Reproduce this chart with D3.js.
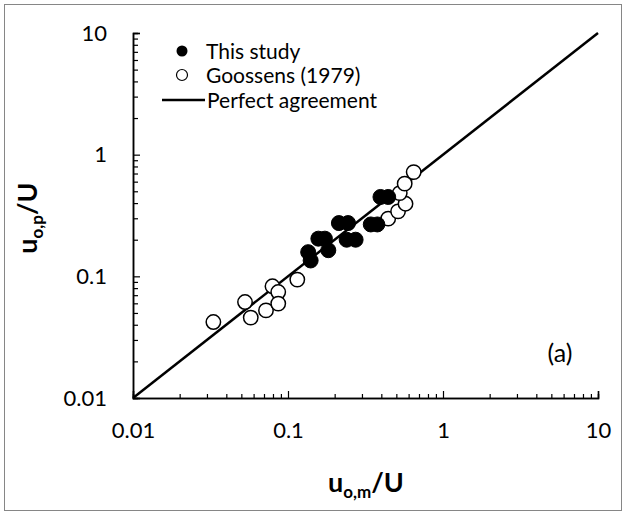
<!DOCTYPE html>
<html><head><meta charset="utf-8">
<script src="https://cdn.jsdelivr.net/npm/d3@7"></script>
<style>body{margin:0;background:#fff}svg{display:block}text{font-family:Lato,sans-serif}</style>
</head><body>
<svg id="c" width="626" height="515"></svg>
<script>
// Data (u_o,m/U , u_o,p/U)
const thisStudyX = [0.135,0.140,0.157,0.173,0.182,0.213,0.244,0.239,0.273,0.342,0.377,0.395,0.443];
const thisStudyY = [0.158,0.135,0.204,0.204,0.164,0.274,0.274,0.200,0.200,0.267,0.267,0.449,0.449];
const goossensX = [0.0330,0.0528,0.0575,0.0721,0.0794,0.0865,0.0865,0.1148,0.443,0.513,0.573,0.526,0.566,0.647];
const goossensY = [0.0421,0.0615,0.0458,0.0525,0.0828,0.0743,0.0597,0.0940,0.298,0.342,0.395,0.483,0.578,0.719];
const majorTicks = [0.01,0.1,1,10];
const tickLabels = ["0.01","0.1","1","10"];
const agreementLine = [0.01,10];
const legendLabels = ["This study","Goossens (1979)","Perfect agreement"];

const svg = d3.select("#c");
svg.append("rect").attr("x",4.5).attr("y",4.5).attr("width",617).attr("height",506)
  .attr("fill","#fff").attr("stroke","#868686").attr("stroke-width",1);

const x = d3.scaleLog().domain([0.01,10]).range([133,598]);
const y = d3.scaleLog().domain([0.01,10]).range([398,33]);
const minor = x.ticks().filter(v => !majorTicks.some(m => Math.abs(m-v)/v < 1e-6));

// minor ticks
const gxm = svg.append("g").attr("transform","translate(0,398)")
  .call(d3.axisBottom(x).tickValues(minor).tickSize(-4).tickFormat(""));
const gym = svg.append("g").attr("transform","translate(133,0)")
  .call(d3.axisLeft(y).tickValues(minor).tickSize(-5).tickFormat(""));
// major ticks with labels
const gx = svg.append("g").attr("transform","translate(0,398)")
  .call(d3.axisBottom(x).tickValues(majorTicks).tickSize(-7).tickPadding(24)
    .tickFormat((d,i)=>tickLabels[i]));
const gy = svg.append("g").attr("transform","translate(133,0)")
  .call(d3.axisLeft(y).tickValues(majorTicks).tickSize(-7).tickPadding(26)
    .tickFormat((d,i)=>tickLabels[i]));
[gxm,gym,gx,gy].forEach(g=>{
  g.select(".domain").attr("stroke","#000").attr("stroke-width",1.5);
  g.selectAll(".tick line").attr("stroke","#000").attr("stroke-width",1.2);
  g.selectAll("text").attr("fill","#000").style("font-size","22px").style("font-family","Lato, sans-serif");
});

// perfect agreement line
svg.append("line").attr("x1",x(agreementLine[0])).attr("y1",y(agreementLine[0]))
  .attr("x2",x(agreementLine[1])).attr("y2",y(agreementLine[1]))
  .attr("stroke","#000").attr("stroke-width",2.5);

// points
svg.append("g").selectAll("circle").data(goossensX.map((v,i)=>[v,goossensY[i]])).join("circle")
  .attr("cx",d=>x(d[0])).attr("cy",d=>y(d[1])).attr("r",7.2)
  .attr("fill","#fff").attr("stroke","#000").attr("stroke-width",1.5);
svg.append("g").selectAll("circle").data(thisStudyX.map((v,i)=>[v,thisStudyY[i]])).join("circle")
  .attr("cx",d=>x(d[0])).attr("cy",d=>y(d[1])).attr("r",7.5)
  .attr("fill","#000").attr("stroke","#000").attr("stroke-width",1);

// legend
const leg = svg.append("g");
leg.append("circle").attr("cx",182).attr("cy",51).attr("r",5.5).attr("fill","#000");
leg.append("circle").attr("cx",182).attr("cy",75).attr("r",5.5).attr("fill","#fff").attr("stroke","#000").attr("stroke-width",1.2);
leg.append("line").attr("x1",162).attr("x2",205).attr("y1",100).attr("y2",100).attr("stroke","#000").attr("stroke-width",2.5);
[51,75,100].forEach((yy,i)=>{
  leg.append("text").attr("x", i<2?206:207).attr("y",yy).attr("dy","0.36em")
    .style("font-size","21px").text(legendLabels[i]);
});

// panel label
svg.append("text").attr("x",560).attr("y",353).attr("dy","0.36em").attr("text-anchor","middle")
  .style("font-size","25px").text("(a)");

// axis titles
const xt = svg.append("text").attr("x",366).attr("y",492).attr("text-anchor","middle")
  .style("font-size","27px").style("font-weight","bold");
xt.append("tspan").text("u");
xt.append("tspan").attr("dy",6).style("font-size","17px").text("o,m");
xt.append("tspan").attr("dy",-6).text("/U");
const yt = svg.append("text").attr("transform","translate(37,218) rotate(-90)").attr("text-anchor","middle")
  .style("font-size","27px").style("font-weight","bold");
yt.append("tspan").text("u");
yt.append("tspan").attr("dy",6).style("font-size","17px").text("o,p");
yt.append("tspan").attr("dy",-6).text("/U");
</script>
</body></html>
